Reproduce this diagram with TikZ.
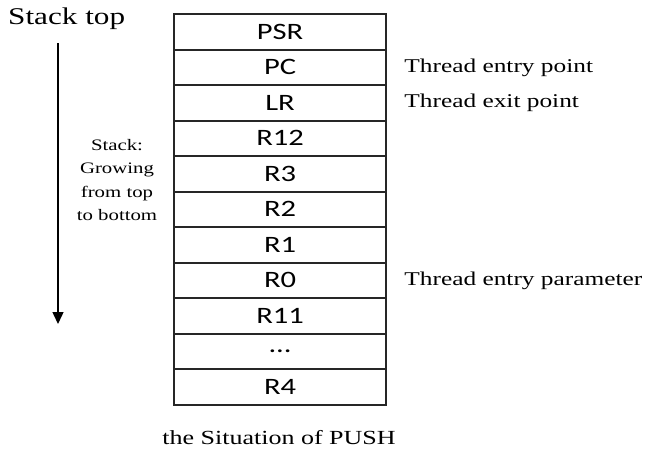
\documentclass[tikz,border=0pt]{standalone}
\usepackage{fontspec}
\setmainfont{Liberation Serif}
\newfontfamily\boxfont{Carlito}
\usetikzlibrary{arrows.meta}
\newcommand\sx[1]{\scalebox{1.3}[1]{#1}}
\newcommand\mydots{...}
\begin{document}
\begin{tikzpicture}[x=1pt,y=-1pt,
  cell/.style={draw=black!85,line width=2.2pt,minimum width=212pt,minimum height=35.5pt,
    inner sep=0pt,anchor=north west,font=\boxfont\fontsize{23.5}{23.5}\selectfont},
  side/.style={anchor=west,inner sep=0pt,font=\fontsize{19.5}{20}\selectfont},
  growlabel/.style={align=center,inner sep=0pt,font=\fontsize{16}{23.5}\selectfont}]
\useasboundingbox (0,0) rectangle (646,453);
\foreach \t [count=\i from 0] in {PSR,PC,LR,R12,R3,R2,R1,R0,R11,\mydots,R4}{
  \node[cell] (row\i) at (173,{13+35.5*\i}) {\sx{\t}};
}
\node[anchor=west,inner sep=0pt,font=\fontsize{24}{24}\selectfont] (top) at (8,19) {\sx{Stack top}};
\coordinate (atop) at (58,43);
\coordinate (abot) at (58,324);
\draw[line width=1.4pt,-{Triangle[width=11pt,length=12pt]}] (atop) -- (abot);
\node[growlabel] (gl) at (117,180) {\sx{Stack:}\\\sx{Growing}\\\sx{from top}\\\sx{to bottom}};
\node[side] (l1) at ([xshift=17pt]row1.east) {\sx{Thread entry point}};
\node[side] (l2) at ([xshift=17pt]row2.east) {\sx{Thread exit point}};
\node[side] (l3) at ([xshift=17pt]row7.east) {\sx{Thread entry parameter}};
\node[inner sep=0pt,font=\fontsize{20}{20}\selectfont] (cap) at (279,438) {\sx{the Situation of PUSH}};
\end{tikzpicture}
\end{document}
